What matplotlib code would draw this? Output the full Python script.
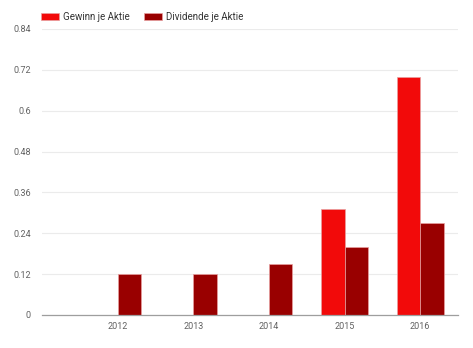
import matplotlib
matplotlib.use("Agg")
import matplotlib.pyplot as plt
import numpy as np

years = ["2012", "2013", "2014", "2015", "2016"]
gewinn = [0.0, 0.0, 0.0, 0.31, 0.70]
dividende = [0.12, 0.12, 0.15, 0.20, 0.27]
y_ticks = [0, 0.12, 0.24, 0.36, 0.48, 0.6, 0.72, 0.84]
y_tick_labels = ["0", "0.12", "0.24", "0.36", "0.48", "0.6", "0.72", "0.84"]

COLORS = {
    "gewinn": "#F20A0A",
    "dividende": "#990000",
    "edge": "#E8A0A0",
    "grid": "#EBEBEB",
    "baseline": "#9E9E9E",
    "tick": "#616161",
    "legend": "#333333",
}

plt.rcParams["font.family"] = ["Roboto", "DejaVu Sans"]

fig = plt.figure(figsize=(4.73, 3.48), dpi=100)
ax = fig.add_axes([42 / 473, 33 / 348, 416 / 473, 286 / 348])

x = np.arange(len(years))
width = 0.31
ax.bar(x - width / 2, gewinn, width, color=COLORS["gewinn"],
       edgecolor=COLORS["edge"], linewidth=0.5, label="Gewinn je Aktie", zorder=3)
ax.bar(x + width / 2, dividende, width, color=COLORS["dividende"],
       edgecolor=COLORS["edge"], linewidth=0.5, label="Dividende je Aktie", zorder=3)

ax.set_xlim(-1.0, 4.5)
ax.set_ylim(0, 0.84)
ax.set_xticks(x)
ax.set_xticklabels(years)
ax.set_yticks(y_ticks)
ax.set_yticklabels(y_tick_labels)
ax.tick_params(axis="both", length=0, labelsize=6.5, colors=COLORS["tick"])
ax.tick_params(axis="x", pad=5)
ax.tick_params(axis="y", pad=8)

ax.grid(True, axis="y", color=COLORS["grid"], linewidth=0.8, zorder=0)
for side in ("top", "right", "left"):
    ax.spines[side].set_visible(False)
ax.spines["bottom"].set_color(COLORS["baseline"])
ax.spines["bottom"].set_linewidth(0.9)
ax.spines["bottom"].set_zorder(4)

fig.legend(
    loc="upper left",
    bbox_to_anchor=(32 / 473, 1 - 3 / 348),
    ncol=2,
    frameon=False,
    fontsize=7,
    handlelength=1.9,
    handleheight=0.8,
    handletextpad=0.35,
    columnspacing=1.5,
    labelcolor=COLORS["legend"],
)

fig.savefig("out.png", dpi=100)
